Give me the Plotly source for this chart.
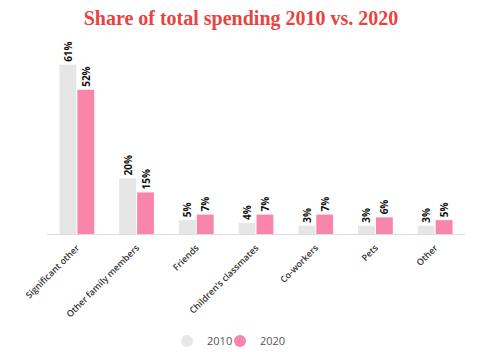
import plotly.graph_objects as go

categories = ["Significant other", "Other family members", "Friends",
              "Children\u2019s classmates", "Co-workers", "Pets", "Other"]
values_2010 = [61, 20, 5, 4, 3, 3, 3]
values_2020 = [52, 15, 7, 7, 7, 6, 5]
series_names = ["2010", "2020"]
colors = ["#e6e6e6", "#f985ab"]

fig = go.Figure()
for name, vals, col in zip(series_names, [values_2010, values_2020], colors):
    fig.add_trace(go.Bar(
        x=categories, y=vals, name=name, marker=dict(color=col, line=dict(width=0)),
        text=[f"{v}%" for v in vals], textposition="outside", textangle=-90,
        constraintext="none",
        textfont=dict(family="Open Sans", size=10, color="#111", weight="bold"),
        cliponaxis=False, showlegend=False))
for name, col, lg in zip(series_names, colors, ["legend", "legend2"]):
    fig.add_trace(go.Scatter(
        x=[None], y=[None], mode="markers", name=name, legend=lg,
        marker=dict(symbol="circle", size=12, color=col)))

leg_common = dict(orientation="h", xanchor="left", y=0.031, yanchor="middle",
                  xref="container", yref="container", itemwidth=30,
                  font=dict(family="Open Sans", size=11, color="#555"),
                  itemsizing="trace", bgcolor="rgba(0,0,0,0)")

fig.update_layout(
    width=482, height=352, plot_bgcolor="white", paper_bgcolor="white",
    margin=dict(l=47, r=17, t=51, b=118, autoexpand=False),
    title=dict(text="<b>Share of total spending 2010 vs. 2020</b>", x=0.5, xanchor="center",
               y=0.948, yanchor="middle",
               font=dict(family="Liberation Serif", size=20, color="#e8433f")),
    barmode="group", bargap=0.4, bargroupgap=0.06,
    xaxis=dict(tickangle=-45, showline=True, linecolor="#dddddd", linewidth=1,
               tickfont=dict(family="Open Sans", size=9, color="#333", weight=600),
               ticks="", automargin=False, ticklabelstandoff=4),
    yaxis=dict(range=[0, 66], visible=False, automargin=False),
    legend=dict(x=0.3465, **leg_common),
    legend2=dict(x=0.4564, **leg_common),
)
fig.write_html("out.html")
